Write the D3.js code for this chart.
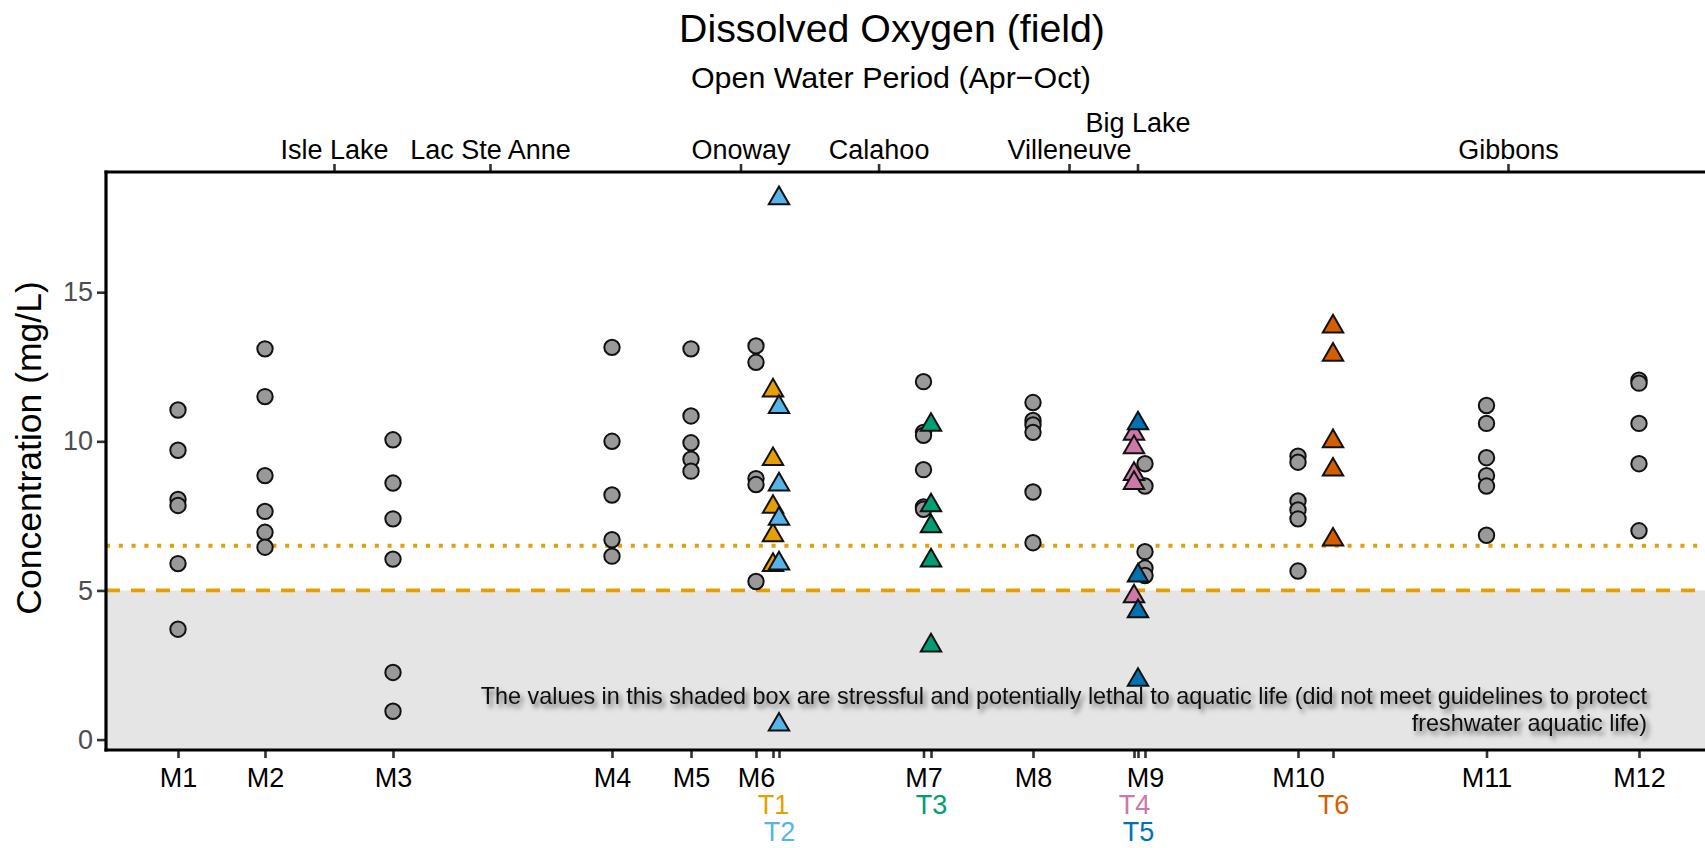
<!DOCTYPE html>
<html>
<head>
<meta charset="utf-8">
<script src="https://cdn.jsdelivr.net/npm/d3@7"></script>
<style>
  html, body { margin: 0; padding: 0; background: #ffffff; }
  svg { display: block; font-family: "Liberation Sans", Arial, Helvetica, sans-serif; }
</style>
</head>
<body>
<svg id="chart" width="1705" height="848"></svg>
<script>
// ---------------- DATA ----------------
const titleText = "Dissolved Oxygen (field)";
const subtitleText = "Open Water Period (Apr\u2212Oct)";
const yTitle = "Concentration (mg/L)";
const noteLines = [
  "The values in this shaded box are stressful and potentially lethal to aquatic life (did not meet guidelines to protect",
  "freshwater aquatic life)"
];

// main-stem sites (position along the river, km-like units)
const mainSites = ["M1","M2","M3","M4","M5","M6","M7","M8","M9","M10","M11","M12"];
const mainKm    = [7.2, 15.9, 28.7, 50.6, 58.5, 65.0, 81.75, 92.7, 103.9, 119.2, 138.05, 153.3];

// tributary sites
const tribSites  = ["T1","T2","T3","T4","T5","T6"];
const tribKm     = [66.7, 67.3, 82.5, 102.8, 103.2, 122.7];
const tribColors = ["#E69F00","#56B4E9","#009E73","#CC79A7","#0072B2","#D55E00"];
const tribLine   = [1, 2, 1, 1, 2, 1];   // label line under the axis

// communities (top axis)
const communities = ["Isle Lake","Lac Ste Anne","Onoway","Calahoo","Villeneuve","Big Lake","Gibbons"];
const communityKm = [22.8, 38.4, 63.45, 77.26, 96.3, 103.15, 140.2];
const communityLine = [0, 0, 0, 0, 0, 1, 0];

const yTicks = [0, 5, 10, 15];
const guidelineAcute = 5;     // dashed
const guidelineChronic = 6.5; // dotted

// dissolved oxygen values (mg/L)
const M1  = [11.05, 9.7, 8.05, 7.85, 5.9, 3.7];
const M2  = [13.1, 11.5, 8.85, 7.65, 6.95, 6.45];
const M3  = [10.05, 8.6, 7.4, 6.05, 2.25, 0.95];
const M4  = [13.15, 10.0, 8.2, 6.7, 6.15];
const M5  = [13.1, 10.85, 9.95, 9.4, 9.0];
const M6  = [13.2, 12.65, 8.75, 8.55, 5.3];
const M7  = [12.0, 10.3, 10.2, 9.05, 7.8, 7.72];
const M8  = [11.3, 10.7, 10.55, 10.3, 8.3, 6.6];
const M9  = [9.25, 8.5, 6.3, 5.75, 5.5];
const M10 = [9.5, 9.3, 8.0, 7.7, 7.4, 5.65];
const M11 = [11.2, 10.6, 9.45, 8.85, 8.5, 6.85];
const M12 = [12.05, 11.95, 10.6, 9.25, 7.0];
const mainValues = [M1, M2, M3, M4, M5, M6, M7, M8, M9, M10, M11, M12];

const T1 = [11.7, 9.4, 7.8, 6.85, 5.85];
const T2 = [18.15, 11.15, 8.55, 7.4, 5.9, 0.5];
const T3 = [10.55, 7.85, 7.15, 6.0, 3.15];
const T4 = [10.25, 9.8, 8.9, 8.6, 4.8];
const T5 = [10.6, 5.5, 4.3, 2.0];
const T6 = [13.85, 12.9, 10.0, 9.05, 6.7];
const tribValues = [T1, T2, T3, T4, T5, T6];

// ---------------- CHART ----------------
const svg = d3.select("#chart");
const W = 1705, H = 848;
const panel = { left: 106, right: 1706, top: 172, bottom: 750 };
const FONT = "'Liberation Sans', Arial, sans-serif";

const x = d3.scaleLinear().domain([0, 160]).range([panel.left, panel.right]);
const y = d3.scaleLinear().domain([-0.35, 19.03]).range([panel.bottom, panel.top]);

const defs = svg.append("defs");
const f = defs.append("filter").attr("id", "shadow")
  .attr("x", "-5%").attr("y", "-50%").attr("width", "110%").attr("height", "200%");
f.append("feDropShadow").attr("dx", 3).attr("dy", 4).attr("stdDeviation", 2.4)
  .attr("flood-color", "#000").attr("flood-opacity", 0.55);

// shaded "stress" box
svg.append("rect")
  .attr("x", panel.left).attr("y", y(guidelineAcute))
  .attr("width", panel.right - panel.left)
  .attr("height", panel.bottom - y(guidelineAcute))
  .attr("fill", "#E5E5E5");

// guideline lines
svg.append("line")
  .attr("x1", panel.left).attr("x2", panel.right)
  .attr("y1", y(guidelineChronic)).attr("y2", y(guidelineChronic))
  .attr("stroke", "#E69F00").attr("stroke-width", 4)
  .attr("stroke-dasharray", "4,8.8");
svg.append("line")
  .attr("x1", panel.left).attr("x2", panel.right)
  .attr("y1", y(guidelineAcute)).attr("y2", y(guidelineAcute))
  .attr("stroke", "#E69F00").attr("stroke-width", 3.8)
  .attr("stroke-dasharray", "14,11");

// note text with shadow
const note = svg.append("text")
  .attr("text-anchor", "end")
  .attr("font-size", 23.4)
  .attr("fill", "#111")
  .attr("filter", "url(#shadow)");
noteLines.forEach((t, i) => {
  note.append("tspan").attr("x", 1647).attr("y", 704 + i * 27).text(t);
});

// main-stem points (circles)
const mainPts = [];
mainValues.forEach((vals, i) => vals.forEach(v => mainPts.push({ km: mainKm[i], v })));
svg.append("g").selectAll("circle").data(mainPts).enter().append("circle")
  .attr("cx", d => x(d.km)).attr("cy", d => y(d.v)).attr("r", 7.7)
  .attr("fill", "#999999").attr("stroke", "#111").attr("stroke-width", 2);

// tributary points (triangles)
const tribPts = [];
tribValues.forEach((vals, i) => vals.forEach(v => tribPts.push({ km: tribKm[i], v, c: tribColors[i] })));
const tri = d3.symbol().type(d3.symbolTriangle).size(180);
svg.append("g").selectAll("path").data(tribPts).enter().append("path")
  .attr("d", tri)
  .attr("transform", d => `translate(${x(d.km)},${y(d.v)})`)
  .attr("fill", d => d.c).attr("stroke", "#111").attr("stroke-width", 2)
  .attr("stroke-linejoin", "miter");

// ---- axes ----
// left axis
const yAxis = d3.axisLeft(y).tickValues(yTicks).tickSize(9).tickPadding(4);
const gy = svg.append("g").attr("transform", `translate(${panel.left},0)`).call(yAxis);
gy.select(".domain").remove();
gy.selectAll(".tick line").attr("stroke", "#333").attr("stroke-width", 2.6);
gy.selectAll(".tick text").attr("font-size", 27).attr("fill", "#4D4D4D")
  .attr("font-family", FONT);

// bottom axis
const allKm = mainKm.concat(tribKm);
const allLabels = mainSites.concat(tribSites);
const allColors = mainSites.map(() => "#000").concat(tribColors);
const allLines = mainSites.map(() => 0).concat(tribLine);
const xAxis = d3.axisBottom(x).tickValues(allKm).tickSize(8).tickPadding(6)
  .tickFormat((d, i) => allLabels[i]);
const gx = svg.append("g").attr("transform", `translate(0,${panel.bottom})`).call(xAxis);
gx.select(".domain").remove();
gx.selectAll(".tick line").attr("stroke", "#333").attr("stroke-width", 2.6);
gx.selectAll(".tick text")
  .attr("font-size", 27)
  .attr("font-family", FONT)
  .attr("fill", (d, i) => allColors[i])
  .attr("y", (d, i) => 18 + allLines[i] * 27)
  .attr("dy", "0.71em");

// top axis
const topAxis = d3.axisTop(x).tickValues(communityKm).tickSize(8).tickPadding(5)
  .tickFormat((d, i) => communities[i]);
const gt = svg.append("g").attr("transform", `translate(0,${panel.top})`).call(topAxis);
gt.select(".domain").remove();
gt.selectAll(".tick line").attr("stroke", "#333").attr("stroke-width", 2.6);
gt.selectAll(".tick text")
  .attr("font-size", 27)
  .attr("font-family", FONT)
  .attr("fill", "#000")
  .attr("y", (d, i) => -13 - communityLine[i] * 27);

// axis lines (panel border)
svg.append("line").attr("x1", panel.left).attr("x2", panel.left)
  .attr("y1", panel.top - 1.5).attr("y2", panel.bottom + 1.5)
  .attr("stroke", "#000").attr("stroke-width", 3.2);
svg.append("line").attr("x1", panel.left - 1.5).attr("x2", W)
  .attr("y1", panel.bottom).attr("y2", panel.bottom)
  .attr("stroke", "#000").attr("stroke-width", 3.2);
svg.append("line").attr("x1", panel.left - 1.5).attr("x2", W)
  .attr("y1", panel.top).attr("y2", panel.top)
  .attr("stroke", "#000").attr("stroke-width", 3.2);

// titles
svg.append("text").attr("x", 892).attr("y", 42).attr("text-anchor", "middle")
  .attr("font-size", 39.3).attr("fill", "#000").text(titleText);
svg.append("text").attr("x", 891).attr("y", 88).attr("text-anchor", "middle")
  .attr("font-size", 30.4).attr("fill", "#000").text(subtitleText);
svg.append("text")
  .attr("transform", `translate(41,${(panel.top + panel.bottom) / 2 - 13}) rotate(-90)`)
  .attr("text-anchor", "middle")
  .attr("font-size", 35.5).attr("fill", "#000").text(yTitle);
</script>
</body>
</html>
